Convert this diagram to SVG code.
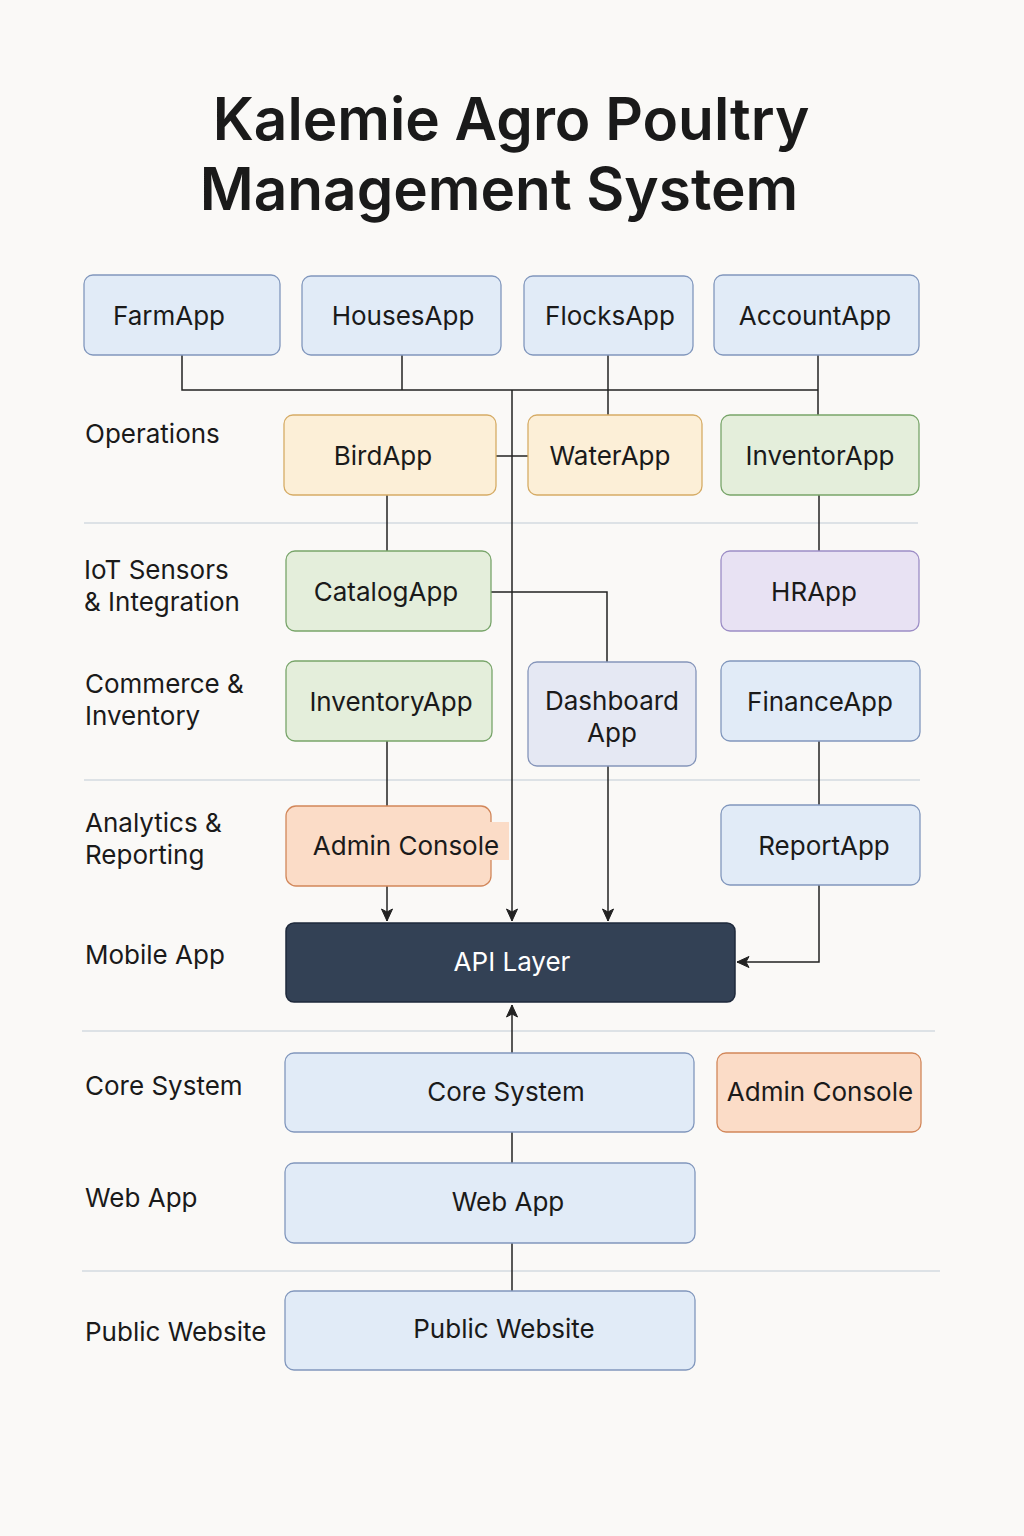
<svg xmlns="http://www.w3.org/2000/svg" width="1024" height="1536" viewBox="0 0 1024 1536">
<defs>
<marker id="arr" viewBox="0 0 14 14" refX="13" refY="7" markerWidth="14" markerHeight="14" markerUnits="userSpaceOnUse" orient="auto">
<path d="M1,1.5 L13,7 L1,12.5 L4,7 Z" fill="#222" stroke="#222" stroke-width="1" stroke-linejoin="round"/>
</marker>
<style>
.t{font-family:Inter,"Liberation Sans",Arial,sans-serif;fill:#1a1a1a}
.title{font-size:58.5px;font-weight:600;text-anchor:middle}
.lbl{font-size:26px}
.bt{font-size:26px;text-anchor:middle}
.blue{fill:#e1ebf7;stroke:#8197bd;stroke-width:1.3}
.yel{fill:#fcefd7;stroke:#d6ac66;stroke-width:1.3}
.grn{fill:#e4eedb;stroke:#78a56a;stroke-width:1.3}
.pur{fill:#e8e2f3;stroke:#9c8dc6;stroke-width:1.3}
.lav{fill:#e5e8f3;stroke:#8595ba;stroke-width:1.3}
.pch{fill:#fbdcc7;stroke:#d2875a;stroke-width:1.3}
.dark{fill:#334155;stroke:#1e293b;stroke-width:1.5}
.sep{stroke:#d3dae1;stroke-width:1.5}
.c{fill:none;stroke:#222;stroke-width:1.5}
</style>
</defs>
<rect width="1024" height="1536" fill="#faf9f7"/>
<text class="t title" x="511" y="140">Kalemie Agro Poultry</text>
<text class="t title" x="499" y="210">Management System</text>

<g id="separators">
<line class="sep" x1="84" y1="523" x2="918" y2="523"/>
<line class="sep" x1="84" y1="780" x2="920" y2="780"/>
<line class="sep" x1="82" y1="1031" x2="935" y2="1031"/>
<line class="sep" x1="82" y1="1271" x2="940" y2="1271"/>
</g>

<g id="lane-labels">
<text class="t lbl" x="85" y="443">Operations</text>
<text class="t lbl" x="84" y="579">IoT Sensors</text>
<text class="t lbl" x="84" y="611">&amp; Integration</text>
<text class="t lbl" x="85" y="693">Commerce &amp;</text>
<text class="t lbl" x="85" y="725">Inventory</text>
<text class="t lbl" x="85" y="832">Analytics &amp;</text>
<text class="t lbl" x="85" y="864">Reporting</text>
<text class="t lbl" x="85" y="964">Mobile App</text>
<text class="t lbl" x="85" y="1095">Core System</text>
<text class="t lbl" x="85" y="1207">Web App</text>
<text class="t lbl" x="85" y="1341">Public Website</text>
</g>

<g id="connectors">
<path class="c" d="M182,355 V390 H818"/>
<path class="c" d="M402,355 V390"/>
<path class="c" d="M608,355 V415"/>
<path class="c" d="M818,355 V415"/>
<path class="c" d="M512,390 V921" marker-end="url(#arr)"/>
<path class="c" d="M496,456 H528"/>
<path class="c" d="M387,495 V551"/>
<path class="c" d="M819,495 V551"/>
<path class="c" d="M491,592 H607 V662"/>
<path class="c" d="M387,741 V806"/>
<path class="c" d="M819,741 V806"/>
<path class="c" d="M387,886 V921" marker-end="url(#arr)"/>
<path class="c" d="M608,766 V921" marker-end="url(#arr)"/>
<path class="c" d="M819,885 V962 H737" marker-end="url(#arr)"/>
<path class="c" d="M512,1053 V1005" marker-end="url(#arr)"/>
<path class="c" d="M512,1132 V1163"/>
<path class="c" d="M512,1243 V1291"/>
</g>

<g id="farmapp"><rect class="blue" x="84" y="275" width="196" height="80" rx="9"/><text class="t bt" x="169" y="325">FarmApp</text></g>
<g id="housesapp"><rect class="blue" x="302" y="276" width="199" height="79" rx="9"/><text class="t bt" x="403" y="325">HousesApp</text></g>
<g id="flocksapp"><rect class="blue" x="524" y="276" width="169" height="79" rx="9"/><text class="t bt" x="610" y="325">FlocksApp</text></g>
<g id="accountapp"><rect class="blue" x="714" y="275" width="205" height="80" rx="9"/><text class="t bt" x="815" y="325">AccountApp</text></g>

<g id="birdapp"><rect class="yel" x="284" y="415" width="212" height="80" rx="9"/><text class="t bt" x="383" y="465">BirdApp</text></g>
<g id="waterapp"><rect class="yel" x="528" y="415" width="174" height="80" rx="9"/><text class="t bt" x="610" y="465">WaterApp</text></g>
<g id="inventorapp"><rect class="grn" x="721" y="415" width="198" height="80" rx="9"/><text class="t bt" x="820" y="465">InventorApp</text></g>

<g id="catalogapp"><rect class="grn" x="286" y="551" width="205" height="80" rx="9"/><text class="t bt" x="386" y="601">CatalogApp</text></g>
<g id="hrapp"><rect class="pur" x="721" y="551" width="198" height="80" rx="9"/><text class="t bt" x="814" y="601">HRApp</text></g>

<g id="inventoryapp"><rect class="grn" x="286" y="661" width="206" height="80" rx="9"/><text class="t bt" x="391" y="711">InventoryApp</text></g>
<g id="dashboardapp"><rect class="lav" x="528" y="662" width="168" height="104" rx="9"/><text class="t bt" x="612" y="710">Dashboard</text><text class="t bt" x="612" y="742">App</text></g>
<g id="financeapp"><rect class="blue" x="721" y="661" width="199" height="80" rx="9"/><text class="t bt" x="820" y="711">FinanceApp</text></g>

<g id="adminconsole1"><rect class="pch" x="286" y="806" width="205" height="80" rx="10"/><rect x="488" y="822" width="21" height="38" fill="#fbdcc7"/><text class="t bt" x="406" y="855">Admin Console</text></g>
<g id="reportapp"><rect class="blue" x="721" y="805" width="199" height="80" rx="9"/><text class="t bt" x="824" y="855">ReportApp</text></g>

<g id="apilayer"><rect class="dark" x="286" y="923" width="449" height="79" rx="8"/><text class="t bt" x="512" y="971" style="fill:#ffffff">API Layer</text></g>

<g id="coresystem"><rect class="blue" x="285" y="1053" width="409" height="79" rx="9"/><text class="t bt" x="506" y="1101">Core System</text></g>
<g id="adminconsole2"><rect class="pch" x="717" y="1053" width="204" height="79" rx="9"/><text class="t bt" x="820" y="1101">Admin Console</text></g>
<g id="webapp"><rect class="blue" x="285" y="1163" width="410" height="80" rx="9"/><text class="t bt" x="508" y="1211">Web App</text></g>
<g id="publicwebsite"><rect class="blue" x="285" y="1291" width="410" height="79" rx="9"/><text class="t bt" x="504" y="1338">Public Website</text></g>
</svg>
